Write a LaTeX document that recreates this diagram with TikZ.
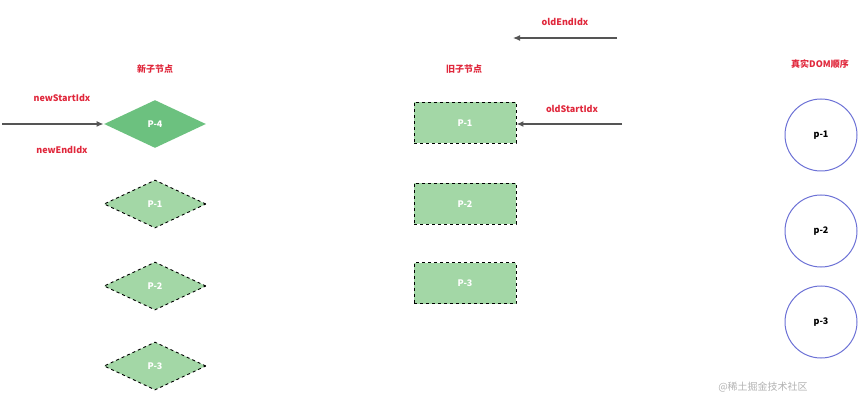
\documentclass[tikz,border=0pt]{standalone}
\usepackage{fontspec}
\setmainfont{Noto Sans CJK SC}
\usetikzlibrary{shapes.geometric,arrows.meta}
\definecolor{lbl}{HTML}{E0283C}
\definecolor{darkgrn}{HTML}{6CC17F}
\definecolor{litegrn}{HTML}{A3D7A6}
\definecolor{ring}{HTML}{6D72D6}
\definecolor{ptr}{HTML}{555555}

\begin{document}
\begin{tikzpicture}[x=1pt,y=-1pt,
	newnode/.style={diamond, aspect=2.1, minimum width=102pt, minimum height=48pt, inner sep=0pt, fill=litegrn, draw=black, dashed, line width=0.9pt, text=white, font=\bfseries\small},
	oldnode/.style={rectangle, minimum width=102pt, minimum height=41pt, fill=litegrn, draw=black, dashed, line width=0.9pt, text=white, font=\bfseries\small},
	domnode/.style={circle, minimum size=72pt, draw=ring, line width=1pt, fill=white, font=\bfseries\small},
	tag/.style={text=lbl, font=\bfseries\small},
	pointer/.style={-{Latex[length=7pt,width=6pt]}, draw=ptr, line width=1.2pt}]

	\useasboundingbox (0,0) rectangle (862,406);

	% titles
	\node[tag] (newtitle) at (155,69) {新子节点};
	\node[tag] (oldtitle) at (464,69) {旧子节点};
	\node[tag] (domtitle) at (820,64) {真实DOM顺序};

	% new children
	\node[newnode, fill=darkgrn, draw=none, solid] (n4) at (155,124) {P-4};
	\node[newnode] (n1) at (155,204) {P-1};
	\node[newnode] (n2) at (155,286) {P-2};
	\node[newnode] (n3) at (155,366) {P-3};

	% old children
	\node[oldnode] (o1) at (465,123) {P-1};
	\node[oldnode] (o2) at (465,204) {P-2};
	\node[oldnode] (o3) at (465,283) {P-3};

	% real dom
	\node[domnode] (d1) at (821,135) {p-1};
	\node[domnode] (d2) at (821,231) {p-2};
	\node[domnode] (d3) at (821,322) {p-3};

	% pointers
	\node[tag] (nstart) at (62,98) {newStartIdx};
	\node[tag] (nend) at (62,150) {newEndIdx};
	\coordinate (nfrom) at (2,124);
	\draw[pointer] (nfrom) -- (n4.west);

	\node[tag] (oend) at (565,22) {oldEndIdx};
	\coordinate (oendfrom) at (617,38);
	\coordinate (oendto) at (513,38);
	\draw[pointer] (oendfrom) -- (oendto);

	\node[tag] (ostart) at (572,109) {oldStartIdx};
	\coordinate (ostartfrom) at (622,124);
	\draw[pointer] (ostartfrom) -- (o1.east |- ostartfrom);

	\node[text=gray!60, font=\normalsize] (mark) at (763,387) {@稀土掘金技术社区};
\end{tikzpicture}
\end{document}
